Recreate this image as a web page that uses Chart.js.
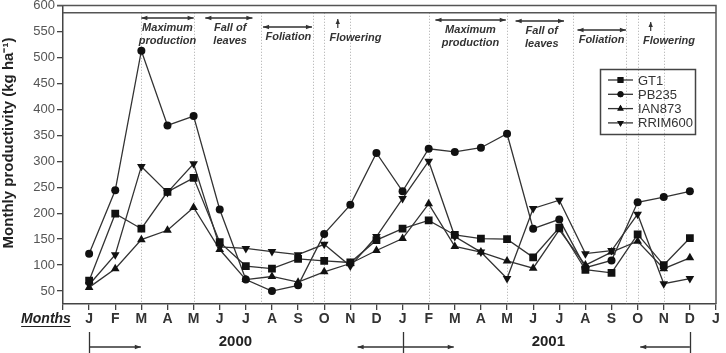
<!DOCTYPE html>
<html>
<head>
<meta charset="utf-8">
<script src="https://cdn.jsdelivr.net/npm/chart.js@4"></script>
<style>
  html, body { margin: 0; padding: 0; background: #fff; }
  #wrap { width: 726px; height: 353px; position: relative; }
</style>
</head>
<body>
<div id="wrap"><canvas id="chart" width="726" height="353"></canvas></div>
<script>
// month tick labels, Jan 2000 .. Jan 2002
const months = ['J','F','M','A','M','J','J','A','S','O','N','D','J','F','M','A','M','J','J','A','S','O','N','D','J'];

// monthly productivity (kg/ha), Jan 2000 .. Dec 2001
const gt1     = [70, 199, 170, 241, 268, 144, 98, 93, 112, 108, 105, 148, 170, 186, 158, 151, 150, 115, 172, 91, 85, 159, 100, 152];
const pb235   = [122, 244, 513, 369, 387, 207, 72, 50, 61, 160, 216, 316, 242, 324, 318, 326, 353, 170, 188, 95, 109, 221, 231, 242];
const ian873  = [57, 93, 149, 167, 211, 130, 72, 78, 67, 87, 103, 128, 151, 218, 136, 125, 108, 94, 168, 100, 125, 146, 93, 114];
const rrim600 = [62, 120, 290, 240, 295, 135, 132, 126, 120, 140, 98, 155, 228, 300, 155, 125, 74, 209, 225, 122, 128, 198, 64, 74];

// dotted phase boundaries (month index)
const phaseLines = [2, 4, 6.58, 8.58, 9, 10, 13, 16, 18.52, 20.55, 21, 22];

// phase annotations: [from, to, lines of text, text centre]
const phases = [
  { from: 2, to: 4, text: ['Maximum', 'production'], at: 3, y: 28 },
  { from: 4.45, to: 6.25, text: ['Fall of', 'leaves'], at: 5.4, y: 28 },
  { from: 6.66, to: 8.53, text: ['Foliation'], at: 7.63, y: 37 },
  { from: 9.52, to: null, text: ['Flowering'], at: 10.2, y: 38 },
  { from: 13.26, to: 15.95, text: ['Maximum', 'production'], at: 14.6, y: 30 },
  { from: 16.33, to: 18.18, text: ['Fall of', 'leaves'], at: 17.33, y: 31 },
  { from: 18.7, to: 20.55, text: ['Foliation'], at: 19.62, y: 40 },
  { from: 21.5, to: null, text: ['Flowering'], at: 22.2, y: 41 }
];

const series = [
  { label: 'GT1', data: gt1, style: 'rect', r: 5.5, rot: 0 },
  { label: 'PB235', data: pb235, style: 'circle', r: 4, rot: 0 },
  { label: 'IAN873', data: ian873, style: 'triangle', r: 5, rot: 0 },
  { label: 'RRIM600', data: rrim600, style: 'triangle', r: 5, rot: 180 }
];

function arrow(ctx, x1, y1, x2, y2, head) {
  ctx.beginPath();
  ctx.moveTo(x1, y1);
  ctx.lineTo(x2, y2);
  ctx.stroke();
  const a = Math.atan2(y2 - y1, x2 - x1);
  ctx.beginPath();
  ctx.moveTo(x2, y2);
  ctx.lineTo(x2 - head * Math.cos(a) + 2.2 * Math.sin(a), y2 - head * Math.sin(a) - 2.2 * Math.cos(a));
  ctx.lineTo(x2 - head * Math.cos(a) - 2.2 * Math.sin(a), y2 - head * Math.sin(a) + 2.2 * Math.cos(a));
  ctx.closePath();
  ctx.fill();
}

const decor = {
  id: 'decor',
  beforeDatasetsDraw(chart) {
    const { ctx, chartArea: ca, scales: { x, y } } = chart;
    ctx.save();
    ctx.strokeStyle = '#aaa';
    ctx.lineWidth = 1;
    ctx.setLineDash([1, 2]);
    const yTop = y.getPixelForValue(586);
    phaseLines.forEach(m => {
      const px = Math.round(x.getPixelForValue(m)) + 0.5;
      ctx.beginPath();
      ctx.moveTo(px, yTop);
      ctx.lineTo(px, ca.bottom);
      ctx.stroke();
    });
    ctx.restore();
  },
  afterDraw(chart) {
    const { ctx, chartArea: ca, scales: { x, y } } = chart;
    ctx.save();
    // frame: top, inner top line, right side
    ctx.strokeStyle = '#555';
    ctx.lineWidth = 1.5;
    ctx.beginPath();
    ctx.moveTo(57, ca.top);
    ctx.lineTo(ca.right, ca.top);
    ctx.lineTo(ca.right, ca.bottom);
    ctx.stroke();
    const yTop = y.getPixelForValue(586);
    ctx.beginPath();
    ctx.moveTo(ca.left, yTop);
    ctx.lineTo(ca.right, yTop);
    ctx.stroke();

    // phase arrows and labels
    ctx.strokeStyle = '#333';
    ctx.fillStyle = '#333';
    ctx.lineWidth = 1.2;
    ctx.font = 'italic bold 11px "Liberation Sans", Arial, sans-serif';
    ctx.textAlign = 'center';
    ctx.textBaseline = 'middle';
    phases.forEach(p => {
      const x1 = x.getPixelForValue(p.from);
      if (p.to === null) {
        arrow(ctx, x1, p.y - 10, x1, p.y - 19, 5);
      } else {
        const x2 = x.getPixelForValue(p.to);
        const ay = p.y - 10;
        arrow(ctx, x1, ay, x2, ay, 6);
        arrow(ctx, x2, ay, x1, ay, 6);
      }
      p.text.forEach((t, i) => ctx.fillText(t, x.getPixelForValue(p.at), p.y + i * 13));
    });

    // legend
    ctx.strokeStyle = '#444';
    ctx.lineWidth = 1.5;
    ctx.strokeRect(600.5, 69.5, 95, 65);
    ctx.font = '13px "Liberation Sans", Arial, sans-serif';
    ctx.textAlign = 'left';
    series.forEach((s, i) => {
      const ly = 80 + i * 14.3;
      ctx.strokeStyle = '#333';
      ctx.lineWidth = 1.3;
      ctx.beginPath();
      ctx.moveTo(608, ly);
      ctx.lineTo(633, ly);
      ctx.stroke();
      ctx.fillStyle = '#111';
      Chart.helpers.drawPoint(ctx, { pointStyle: s.style, radius: s.r * 0.75, rotation: s.rot, borderWidth: 0 }, 620.5, ly);
      ctx.fill();
      ctx.fillStyle = '#333';
      ctx.fillText(s.label, 638, ly + 1);
    });

    // y axis title
    ctx.save();
    ctx.translate(9, 143);
    ctx.rotate(-Math.PI / 2);
    ctx.textAlign = 'center';
    ctx.fillStyle = '#222';
    ctx.font = 'bold 15px "Liberation Sans", Arial, sans-serif';
    ctx.fillText('Monthly productivity (kg ha\u207B\u00B9)', 0, 0);
    ctx.restore();

    // "Months" caption
    ctx.fillStyle = '#222';
    ctx.font = 'italic bold 14px "Liberation Sans", Arial, sans-serif';
    ctx.textAlign = 'center';
    ctx.fillText('Months', 46, 319);
    const mw = ctx.measureText('Months').width;
    ctx.strokeStyle = '#222';
    ctx.lineWidth = 1.2;
    ctx.beginPath();
    ctx.moveTo(46 - mw / 2, 326.5);
    ctx.lineTo(46 + mw / 2, 326.5);
    ctx.stroke();

    // year markers
    ctx.strokeStyle = '#333';
    ctx.fillStyle = '#333';
    ctx.lineWidth = 1.3;
    [0, 12, 23].forEach(m => {
      const px = Math.round(x.getPixelForValue(m)) + 0.5;
      ctx.beginPath();
      ctx.moveTo(px, 332);
      ctx.lineTo(px, 353);
      ctx.stroke();
    });
    const ay = 347;
    arrow(ctx, x.getPixelForValue(0), ay, x.getPixelForValue(1.98), ay, 6);
    arrow(ctx, x.getPixelForValue(12), ay, x.getPixelForValue(10.28), ay, 6);
    arrow(ctx, x.getPixelForValue(12), ay, x.getPixelForValue(13.96), ay, 6);
    arrow(ctx, x.getPixelForValue(23), ay, x.getPixelForValue(21.1), ay, 6);
    ctx.fillStyle = '#222';
    ctx.font = 'bold 15px "Liberation Sans", Arial, sans-serif';
    ctx.textAlign = 'center';
    ctx.fillText('2000', x.getPixelForValue(5.6), 342);
    ctx.fillText('2001', x.getPixelForValue(17.58), 342);
    ctx.restore();
  }
};

new Chart(document.getElementById('chart'), {
  type: 'line',
  data: {
    datasets: series.map(s => ({
      label: s.label,
      data: s.data.map((v, i) => ({ x: i, y: v })),
      borderColor: '#333',
      borderWidth: 1.3,
      backgroundColor: '#111',
      pointBackgroundColor: '#111',
      pointBorderWidth: 0,
      pointStyle: s.style,
      pointRadius: s.r,
      pointRotation: s.rot,
      tension: 0
    }))
  },
  options: {
    responsive: false,
    animation: false,
    events: [],
    layout: { padding: { left: 0, right: 10, top: 5, bottom: 0 } },
    plugins: { legend: { display: false }, tooltip: { enabled: false } },
    scales: {
      x: {
        type: 'linear',
        min: -1,
        max: 24,
        afterFit(s) { s.height = 49; s.paddingLeft = 0; s.paddingRight = 0; },
        border: { color: '#444', width: 1.5 },
        grid: { drawOnChartArea: false, tickLength: 6, color: '#444', lineWidth: 1.3 },
        ticks: {
          stepSize: 1,
          autoSkip: false,
          maxRotation: 0,
          padding: 1,
          color: '#333',
          font: { family: '"Liberation Sans", Arial, sans-serif', size: 14, weight: 'bold' },
          callback: v => (v >= 0 && v < months.length ? months[v] : '')
        }
      },
      y: {
        min: 25,
        max: 600,
        afterFit(s) { s.width = 63; s.paddingTop = 0; s.paddingBottom = 0; },
        afterBuildTicks(s) { s.ticks = s.ticks.filter(t => t.value % 50 === 0); },
        border: { color: '#444', width: 1.5 },
        grid: { drawOnChartArea: false, tickLength: 6, color: '#444', lineWidth: 1.3 },
        ticks: {
          stepSize: 25,
          padding: 2,
          color: '#555',
          font: { family: '"Liberation Sans", Arial, sans-serif', size: 13 }
        }
      }
    }
  },
  plugins: [decor]
});
</script>
</body>
</html>
